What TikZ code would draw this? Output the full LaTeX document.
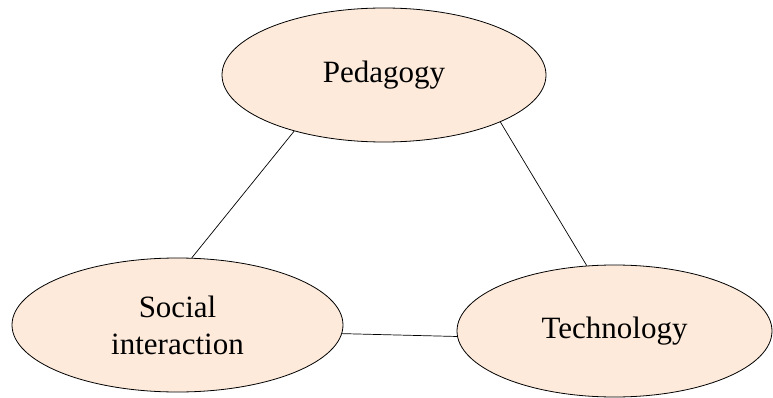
\documentclass[tikz,border=0pt]{standalone}
\usepackage{fontspec}
\setmainfont{Liberation Serif}
\usetikzlibrary{shapes.geometric}
\definecolor{peach}{HTML}{FDEADA}

\begin{document}
\begin{tikzpicture}[x=1pt,y=-1pt,
	topic/.style={ellipse,draw=black,line width=0.8pt,fill=peach,inner sep=0pt,
		align=center,font=\fontsize{31}{37}\selectfont}]
	\useasboundingbox (0,0) rectangle (773,398);
	\node[topic,minimum width=324pt,minimum height=134pt] (ped) at (384,75) {Pedagogy};
	\node[topic,minimum width=331pt,minimum height=134pt] (soc) at (177.5,325) {Social\\interaction};
	\node[topic,minimum width=315pt,minimum height=132pt] (tech) at (614.5,331) {Technology};
	\draw[line width=0.7pt] (ped.212) -- (soc.78);
	\draw[line width=0.7pt] (ped.338) -- (tech.113);
	\draw[line width=0.7pt] (soc.357) -- (tech.182);
\end{tikzpicture}
\end{document}
